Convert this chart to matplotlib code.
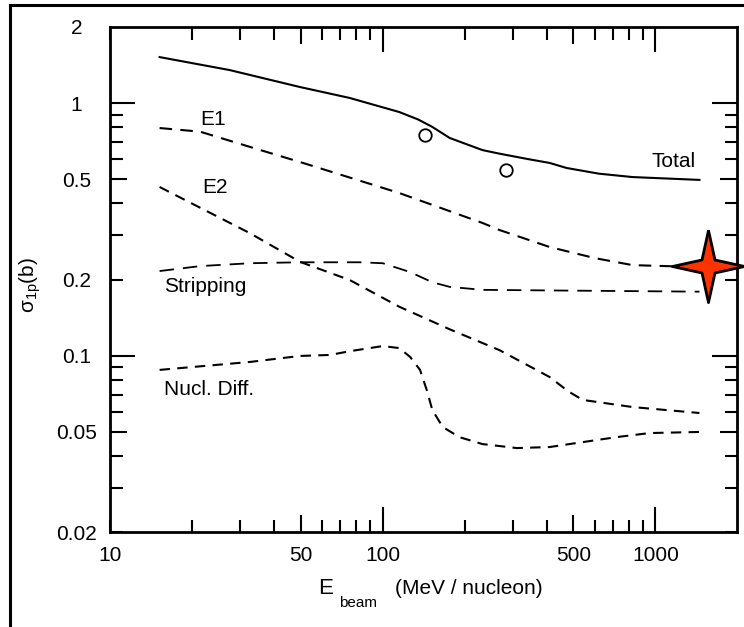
import matplotlib
matplotlib.use('Agg')
import matplotlib.pyplot as plt
from matplotlib.lines import Line2D
from matplotlib.ticker import FixedLocator, NullFormatter
import numpy as np

plt.rcParams['font.family'] = ['Liberation Sans Narrow', 'Liberation Sans', 'DejaVu Sans']

# curves (E in MeV/nucleon, sigma in b)
total_e = [15.2, 27.5, 49.7, 75.7, 115, 135, 152, 176, 232, 268, 340, 409, 472, 620, 824, 1449]
total_s = [1.52, 1.35, 1.157, 1.047, 0.921, 0.86, 0.804, 0.727, 0.651, 0.63, 0.60, 0.579, 0.553,
           0.525, 0.509, 0.496]

e1_e = [15.2, 21.4, 32.6, 49.7, 115, 232, 268, 409, 600, 824, 1449]
e1_s = [0.796, 0.77, 0.67, 0.584, 0.44, 0.335, 0.314, 0.269, 0.243, 0.228, 0.224]

e2_e = [15.2, 32.6, 49.7, 75.7, 115, 176, 268, 409, 480, 541, 824, 1449]
e2_s = [0.465, 0.305, 0.235, 0.199, 0.156, 0.127, 0.105, 0.0822, 0.072, 0.0667, 0.0625, 0.0592]

strip_e = [15.2, 21.4, 32.6, 49.7, 82.4, 100, 126, 152, 176, 232, 409, 1449]
strip_s = [0.216, 0.226, 0.232, 0.234, 0.234, 0.232, 0.214, 0.195, 0.187, 0.182, 0.181, 0.179]

nd_e = [15.2, 32.6, 49.7, 64, 75.7, 100, 115, 126, 137, 145, 152, 166, 191, 232, 310,
        409, 541, 719, 951, 1449]
nd_s = [0.0877, 0.0943, 0.0996, 0.1005, 0.104, 0.109, 0.107, 0.0987, 0.0877, 0.073,
        0.0608, 0.0521, 0.0475, 0.0446, 0.043, 0.0434, 0.0454, 0.0475, 0.0493, 0.0498]

# measured points (open circles)
exp_e = [143, 284]
exp_s = [0.747, 0.543]

# red star
star_e = [1563]
star_s = [0.226]

x_labels = [10, 50, 100, 500, 1000]
y_labels = [0.02, 0.05, 0.1, 0.2, 0.5, 1, 2]

fig = plt.figure(figsize=(7.44, 6.27), dpi=100)
ax = fig.add_axes([110 / 744, 1 - 532 / 627, 627 / 744, 505 / 627])
ax.set_xscale('log')
ax.set_yscale('log')
ax.set_xlim(10, 1990)
ax.set_ylim(0.02, 2)

lw = 1.5
ax.plot(total_e, total_s, color='black', lw=lw)
ax.plot(e1_e, e1_s, color='black', lw=lw, dashes=(6, 4))
ax.plot(e2_e, e2_s, color='black', lw=lw, dashes=(5, 3.5))
ax.plot(strip_e, strip_s, color='black', lw=1.3, dashes=(8, 5))
ax.plot(nd_e, nd_s, color='black', lw=lw, dashes=(5, 3.5))
ax.plot(exp_e, exp_s, 'o', mfc='white', mec='black', ms=9, mew=1.3)

star = [(0, 1), (0.18, 0.18), (1, 0), (0.18, -0.18), (0, -1), (-0.18, -0.18), (-1, 0), (-0.18, 0.18), (0, 1)]
ax.plot(star_e, star_s, marker=star, ms=52, mfc='#ff3300', mec='black', mew=2,
        ls='none', clip_on=False, zorder=5)

fs = 15
ax.text(966, 0.584, 'Total', fontsize=fs, ha='left', va='center')
ax.text(23.8, 0.857, 'E1', fontsize=fs, ha='center', va='center')
ax.text(24.3, 0.461, 'E2', fontsize=fs, ha='center', va='center')
ax.text(15.8, 0.188, 'Stripping', fontsize=fs, ha='left', va='center')
ax.text(15.8, 0.0735, 'Nucl. Diff.', fontsize=fs, ha='left', va='center')

# ticks
ax.xaxis.set_major_locator(FixedLocator(x_labels))
ax.xaxis.set_minor_locator(FixedLocator([20, 30, 40, 60, 70, 80, 90,
                                         200, 300, 400, 600, 700, 800, 900]))
ax.set_xticklabels([str(v) for v in x_labels])
ax.xaxis.set_minor_formatter(NullFormatter())
ax.yaxis.set_major_locator(FixedLocator(y_labels))
ax.yaxis.set_minor_locator(FixedLocator([0.03, 0.04, 0.06, 0.07, 0.08, 0.09,
                                         0.3, 0.4, 0.6, 0.7, 0.8, 0.9]))
ax.set_yticklabels([str(v) for v in y_labels])
ax.yaxis.set_minor_formatter(NullFormatter())

ax.tick_params(which='both', direction='in', top=True, right=True, width=1.5,
               labelsize=15, colors='black')
ax.tick_params(which='major', length=12)
ax.tick_params(which='minor', length=9)
ax.tick_params(axis='x', which='major', pad=10)
ax.tick_params(axis='y', which='major', pad=24)
for lab in ax.get_yticklabels():
    lab.set_horizontalalignment('center')

long_x = {100: 18, 1000: 18, 50: 12, 500: 12, 10: 9}
for t, v in zip(ax.xaxis.get_major_ticks(), x_labels):
    t.tick1line.set_markersize(long_x[v])
    t.tick2line.set_markersize(long_x[v])
long_y = {1: 18, 0.1: 18, 0.5: 12, 0.05: 12, 0.2: 9, 0.02: 9, 2: 0}
for t, v in zip(ax.yaxis.get_major_ticks(), y_labels):
    t.tick1line.set_markersize(long_y[v])
    t.tick2line.set_markersize(long_y[v])

for s in ax.spines.values():
    s.set_linewidth(2)

# axis titles
fig.text(30 / 744, 1 - 285 / 627, r'$\mathregular{\sigma_{1p}}$(b)', rotation=90, fontsize=15,
         ha='center', va='center')
fig.text(326 / 744, 1 - 588 / 627, 'E', fontsize=16, ha='center', va='center')
fig.text(358 / 744, 1 - 603 / 627, 'beam', fontsize=11, ha='center', va='center')
fig.text(469 / 744, 1 - 588 / 627, '(MeV / nucleon)', fontsize=15, ha='center', va='center')

# outer frame (left and top edges of the scanned page)
fig.add_artist(Line2D([10 / 744, 10 / 744], [0, 1 - 5 / 627], color='black', lw=2.2,
                      transform=fig.transFigure))
fig.add_artist(Line2D([10 / 744, 1], [1 - 5 / 627, 1 - 5 / 627], color='black', lw=2.2,
                      transform=fig.transFigure))

fig.savefig('out.png', dpi=100)
